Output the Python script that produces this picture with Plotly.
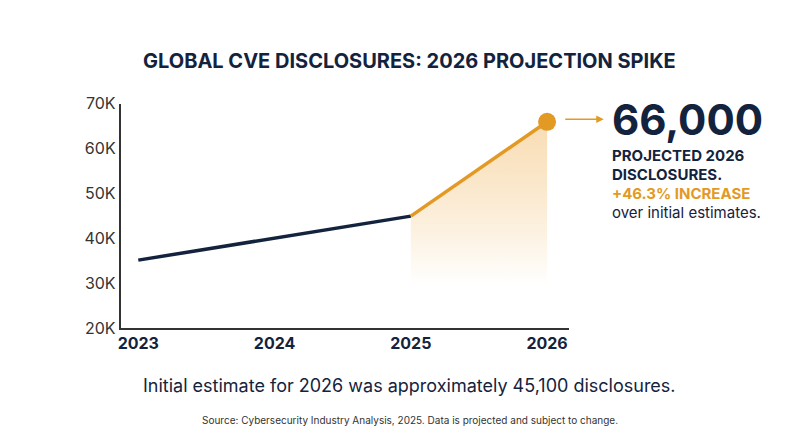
import plotly.graph_objects as go

years = ["2023", "2024", "2025", "2026"]
values = [35200, 40100, 45000, 66000]
ytick_vals = [20000, 30000, 40000, 50000, 60000, 70000]
ytick_text = ["20K", "30K", "40K", "50K", "60K", "70K"]

NAVY = "#14233d"
ORANGE = "#e29a25"
xs = list(range(len(years)))

fig = go.Figure()
# gradient fill under projection segment
fig.add_trace(go.Scatter(x=xs[2:], y=values[2:], mode="lines", line=dict(width=0, color=ORANGE),
                         fill="tozeroy",
                         fillgradient=dict(type="vertical",
                                           colorscale=[[0, "rgba(255,255,255,0)"], [0.45, "rgba(255,255,255,0.6)"], [1, "rgba(240,180,90,0.45)"]]),
                         hoverinfo="skip", showlegend=False))
fig.add_trace(go.Scatter(x=xs[:3], y=values[:3], mode="lines", line=dict(color=NAVY, width=3.5), showlegend=False))
fig.add_trace(go.Scatter(x=xs[2:], y=values[2:], mode="lines", line=dict(color=ORANGE, width=3.5), showlegend=False))
fig.add_trace(go.Scatter(x=[xs[3]], y=[values[3]], mode="markers", marker=dict(color=ORANGE, size=18), showlegend=False))

fig.update_layout(
    width=800, height=447, margin=dict(l=0, r=0, t=0, b=0),
    paper_bgcolor="white", plot_bgcolor="white",
    font=dict(family="Inter", color=NAVY),
    xaxis=dict(domain=[0.1375, 0.7], range=[-0.13, 3.16], tickvals=xs, ticktext=[f"<b>{y}</b>" for y in years],
               showgrid=False, zeroline=False, showline=True, linecolor="#333", linewidth=1.5,
               tickfont=dict(size=16, color=NAVY), ticks=""),
    yaxis=dict(domain=[0.273, 0.799], range=[20000, 70000], tickvals=ytick_vals, ticktext=ytick_text,
               showgrid=False, zeroline=False, showline=True, linecolor="#333", linewidth=1.5,
               tickfont=dict(size=16, color="#333"), ticks=""),
)

ann = [
    dict(x=0.5, y=45, text="<b>GLOBAL CVE DISCLOSURES: 2026 PROJECTION SPIKE</b>", size=20, color=NAVY, xanchor="center"),
    dict(x=601, y=106, text="<b>66,000</b>", size=42, color=NAVY, xanchor="left"),
    dict(x=601, y=144, text="<b>PROJECTED 2026</b>", size=15, color=NAVY, xanchor="left"),
    dict(x=601, y=164, text="<b>DISCLOSURES.</b>", size=15, color=NAVY, xanchor="left"),
    dict(x=601, y=184, text="<b>+46.3% INCREASE</b>", size=15, color=ORANGE, xanchor="left"),
    dict(x=601, y=204, text="over initial estimates.", size=15, color=NAVY, xanchor="left"),
    dict(x=0.5, y=385, text="Initial estimate for 2026 was approximately 45,100 disclosures.", size=18, color=NAVY, xanchor="center"),
    dict(x=0.5, y=421, text="Source: Cybersecurity Industry Analysis, 2025. Data is projected and subject to change.", size=10, color="#333", xanchor="center"),
]
for a in ann:
    xp = a["x"] if a["x"] <= 1 else a["x"] / 800
    fig.add_annotation(x=xp, y=1 - a["y"] / 447, xref="paper", yref="paper", text=a["text"], showarrow=False,
                       xanchor=a["xanchor"], yanchor="middle", font=dict(size=a["size"], color=a["color"]))

fig.add_annotation(x=595 / 800, y=1 - 106 / 447, ax=-40, ay=0, xref="paper", yref="paper",
                   showarrow=True, arrowhead=2, arrowsize=1, arrowwidth=1.5,
                   arrowcolor=ORANGE, text="")

fig.write_html("out.html")
